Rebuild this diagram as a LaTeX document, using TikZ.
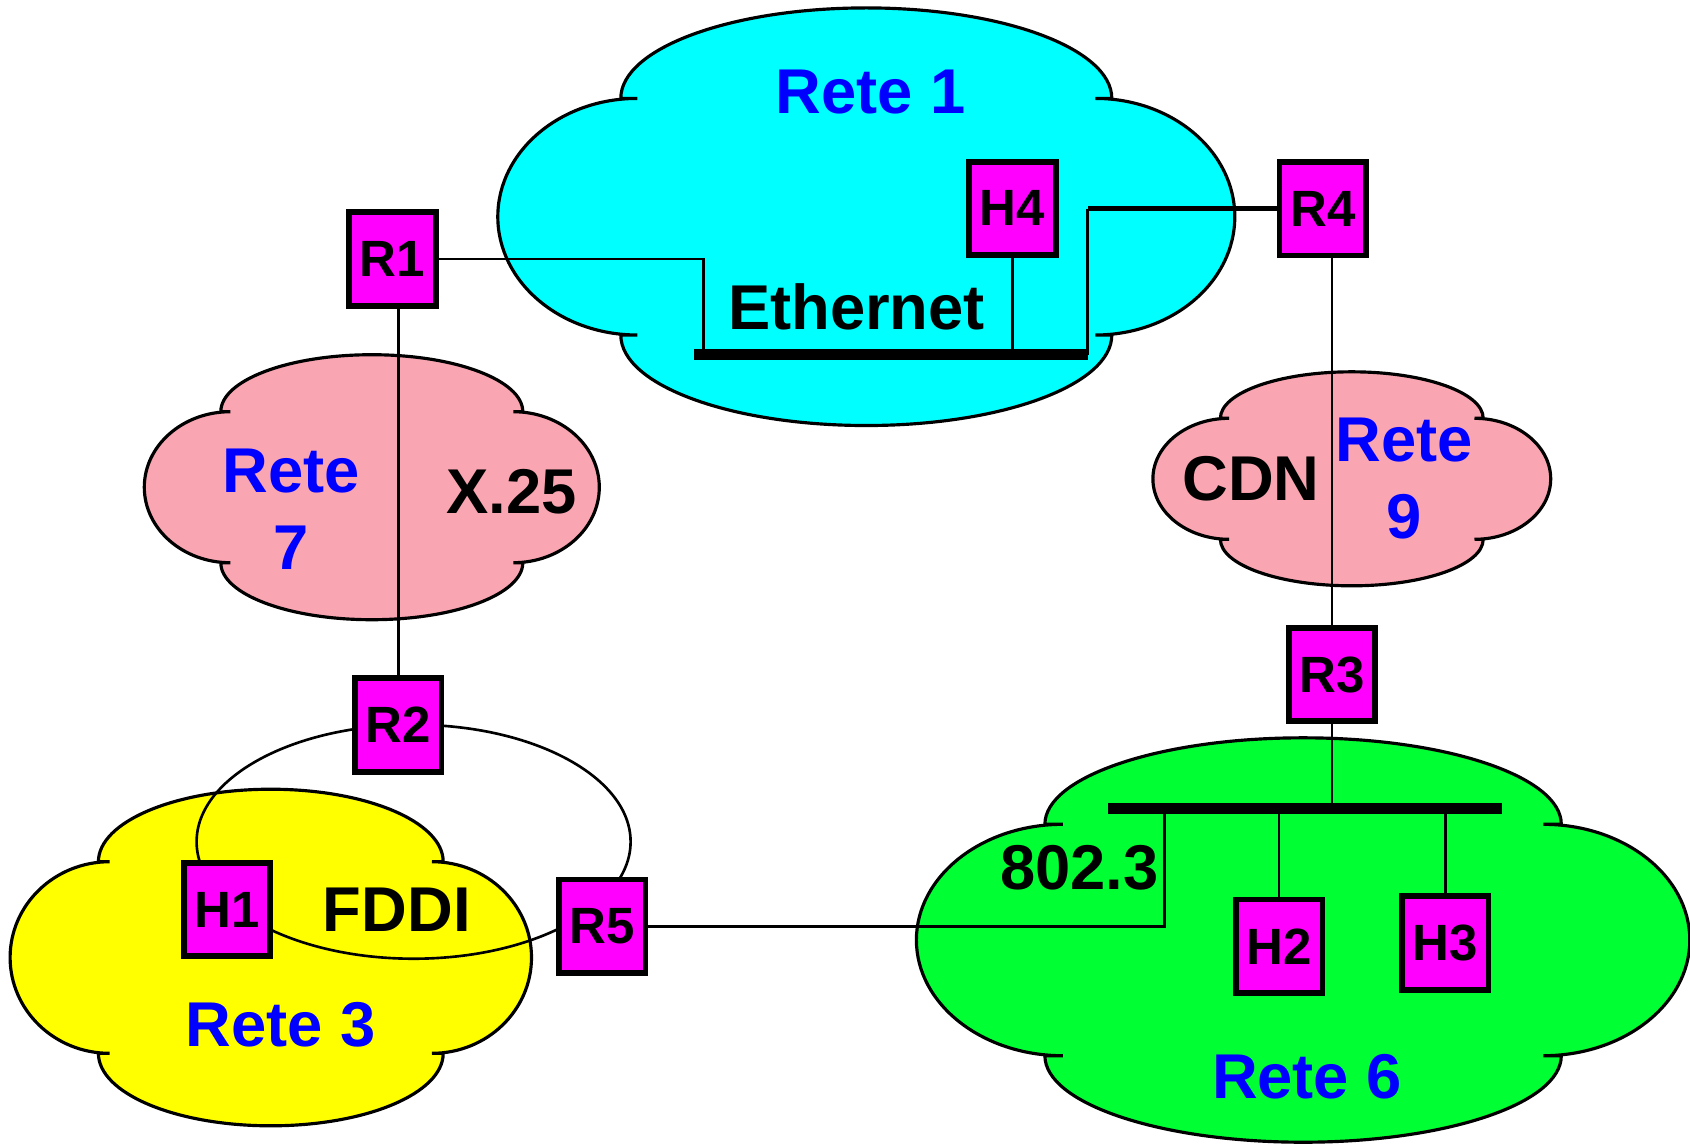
\documentclass[tikz,border=0pt]{standalone}
\usepackage{fontspec}
\setmainfont{Liberation Sans}
\usepackage{xcolor}
\usepackage{tikz}
\usetikzlibrary{positioning, calc}
\definecolor{retecyan}{RGB}{0, 255, 255}
\definecolor{retepink}{RGB}{250, 165, 178}
\definecolor{reteyellow}{RGB}{255, 255, 0}
\definecolor{retegreen}{RGB}{0, 255, 51}
\definecolor{nodemag}{RGB}{255, 0, 255}
\definecolor{reteblue}{RGB}{0, 0, 255}

\tikzset{
  cloudline/.style={draw=black, line width=0.9pt},
  link/.style={draw=black, line width=0.75pt},
  trunk/.style={draw=black, line width=1.5pt},
  bus/.style={draw=black, line width=3.1pt},
  box/.style={draw=black, fill=nodemag, line width=1.6pt, inner sep=0pt,
    minimum width=0.864cm, minimum height=0.934cm,
    font=\fontsize{14.5}{17}\selectfont\bfseries},
  lbl/.style={font=\fontsize{18}{21.9}\selectfont\bfseries, inner sep=0pt},
  netlbl/.style={lbl, text=reteblue, align=center}
}

% colour, cx, cy, half width, tick, half height, cap radius, side radius
\newcommand{\netcloud}[8]{%
  \draw[cloudline, fill=#1] ({#2-#4-#5},{#3-#6})
    arc[start angle=180, end angle=360, x radius={#4+#5}, y radius=#7]
    -- ({#2+#4},{#3-#6})
    arc[start angle=270, end angle=450, x radius=#8, y radius=#6]
    -- ({#2+#4+#5},{#3+#6})
    arc[start angle=0, end angle=180, x radius={#4+#5}, y radius=#7]
    -- ({#2-#4},{#3+#6})
    arc[start angle=90, end angle=270, x radius=#8, y radius=#6]
    -- cycle;}

\begin{document}
\begin{tikzpicture}[x=0.01cm, y=-0.01cm]
    \useasboundingbox (0,0) rectangle (1690,1144);

    \netcloud{retecyan}{866.3}{216.7}{229}{16.5}{118.3}{90.5}{139.5}
    \netcloud{retepink}{371.8}{487.2}{141.5}{9.5}{75.5}{57}{86}
    \netcloud{retepink}{1351.8}{478.8}{122.7}{8.7}{60.5}{46.5}{76.2}
    \netcloud{reteyellow}{270.8}{957.5}{161.2}{11.2}{95.8}{72.5}{99.5}
    \netcloud{retegreen}{1303.1}{940}{240.2}{18}{115.7}{86.5}{146.5}

    % FDDI ring
    \coordinate (fddi) at (413.6,841.7);
    \draw[link] (fddi) ellipse [x radius=217, y radius=117];

    \node[box] (R1) at (392.5,259) {R1};
    \node[box] (R4) at (1322.8,208.7) {R4};
    \node[box] (H4) at (1012.5,208.4) {H4};
    \node[box] (R2) at (398.3,725) {R2};
    \node[box] (R3) at (1332,674.5) {R3};
    \node[box] (H1) at (227,909.5) {H1};
    \node[box] (R5) at (602.2,926.2) {R5};
    \node[box] (H2) at (1279.1,946.2) {H2};
    \node[box] (H3) at (1445.2,943) {H3};

    \node[netlbl, anchor=base] (rete1) at (870.3,113.5) {Rete 1};
    \node[lbl, anchor=base] (ether) at (856.4,329.3) {Ethernet};
    \node[netlbl] (rete7) at (291.5,508.9) {Rete\\7};
    \node[lbl, anchor=base] (x25) at (511.5,513.3) {X.25};
    \node[lbl, anchor=base] (cdn) at (1251,500.7) {CDN};
    \node[netlbl] (rete9) at (1404,478.9) {Rete\\9};
    \node[lbl, anchor=base] (fddilbl) at (396.8,931.7) {FDDI};
    \node[netlbl, anchor=base] (rete3) at (280.3,1046.7) {Rete 3};
    \node[lbl, anchor=base] (lan) at (1079.6,889.3) {802.3};
    \node[netlbl, anchor=base] (rete6) at (1307,1098.3) {Rete 6};

    % Ethernet
    \coordinate (ethL) at (693.9,354.5);
    \coordinate (ethR) at (1087.8,354.5);
    \coordinate (ethA) at (703.6,349);
    \draw[bus] (ethL) -- (ethR);
    \draw[link] (R1.east) -| (ethA);
    \draw[link] (H4.south) -- (H4.south |- ethA);
    \draw[trunk] (R4.west) -- (R4.west -| ethR);
    \draw[link] (R4.west -| ethR) -- (ethR);

    \draw[link] (R1.south -| R2.north) -- (R2.north);
    \draw[link] (R4.south -| R3.north) -- (R3.north);

    % 802.3
    \coordinate (lanL) at (1108.3,808.8);
    \coordinate (lanR) at (1501.5,808.8);
    \coordinate (lanA) at (1164.6,814);
    \draw[bus] (lanL) -- (lanR);
    \draw[link] (R3.south) -- (R3.south |- lanL);
    \draw[link] (R5.east) -| (lanA);
    \draw[link] (H2.north) -- (H2.north |- lanA);
    \draw[link] (H3.north) -- (H3.north |- lanA);
\end{tikzpicture}
\end{document}
